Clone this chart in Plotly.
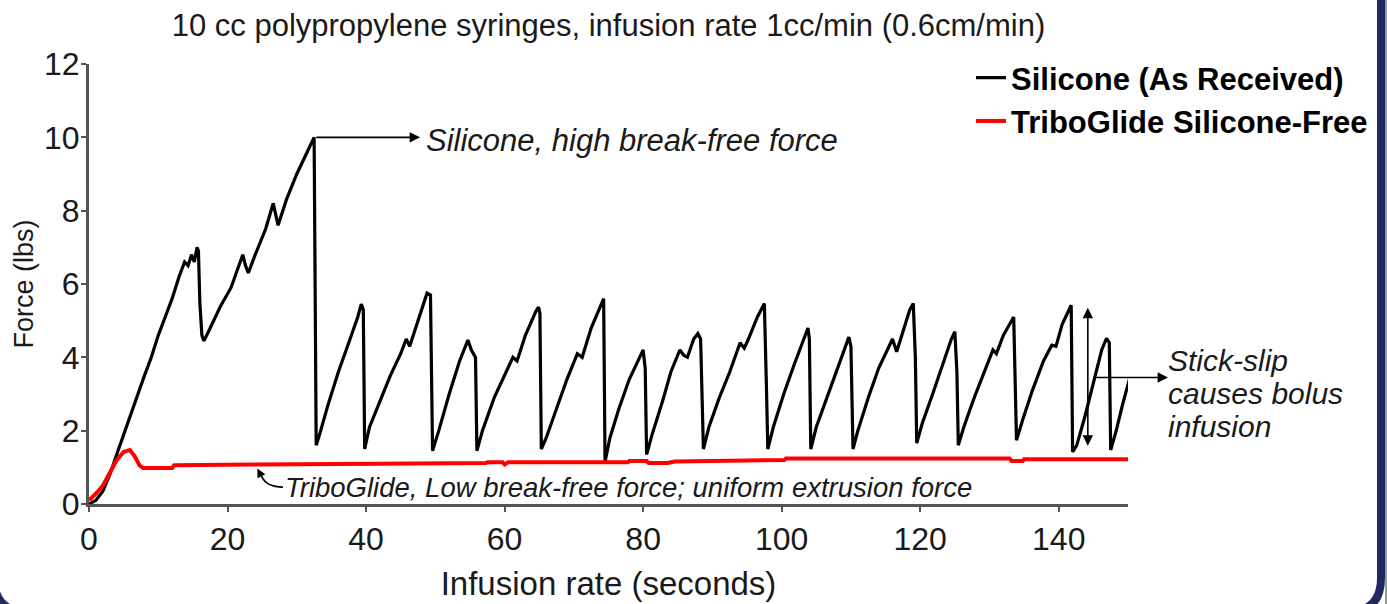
import plotly.graph_objects as go

# ---------------- data ----------------
sil_t = [0, 1, 2, 3, 4, 5, 6, 7, 8, 9, 10, 11, 12, 13, 13.8, 14.3, 14.8, 15.2, 15.6, 15.8, 16.0, 16.3, 16.6,
         17.5, 19, 20.5, 22.2, 22.6, 23.0, 24, 25.5, 26.6, 27.0, 27.3, 28.5, 30, 31.5, 32.5, 32.8,
         33.3, 34.5, 36, 37.5, 38.8, 39.3, 39.6, 39.8,
         40.5, 42, 43.5, 45, 45.8, 46.3, 47.5, 48.8, 49.3, 49.4, 49.6,
         50.5, 52, 53.5, 54.7, 55.2, 55.8, 56.0,
         56.8, 58.5, 60, 61.2, 61.8, 63, 64.5, 64.9, 65.1, 65.3,
         66, 67.5, 69, 70.5, 71.2, 72.5, 74.0, 74.3, 74.5,
         75.2, 76.5, 78, 79.5, 80, 80.3, 80.5,
         81.3, 82.8, 84, 85.3, 85.9, 86.4, 87.3, 87.9, 88.3, 88.5, 88.7,
         89.5, 91, 92.5, 94, 94.6, 95.2, 96.5, 97.5, 97.8, 98.0,
         98.8, 100.3, 101.8, 103, 103.8, 104, 104.2,
         105, 106.5, 108, 109.3, 109.7, 110, 110.1, 110.3,
         111, 112.5, 114, 115.5, 116, 116.6, 117.5, 118.5, 119, 119.3, 119.5,
         120.3, 121.8, 123.3, 124.5, 125, 125.3, 125.5,
         126.3, 127.8, 129.3, 130.5, 131, 132, 133.5, 133.7, 133.9,
         134.8, 136.2, 137.8, 139, 139.6, 140.5, 141.8, 142.0,
         142.6, 143.8, 145, 146.2, 146.9, 147.3, 147.5,
         148.3, 149.2, 150.2]
sil_f = [0, 0.1, 0.35, 0.8, 1.35, 1.9, 2.4, 2.95, 3.5, 4.0, 4.6, 5.1, 5.6, 6.2, 6.6, 6.5, 6.8, 6.6, 7.0, 6.9, 5.5, 4.6, 4.45,
         4.8, 5.4, 5.9, 6.8, 6.5, 6.3, 6.8, 7.5, 8.2, 7.8, 7.6, 8.3, 9.0, 9.6, 10.0, 1.6,
         1.9, 2.7, 3.6, 4.4, 5.1, 5.45, 5.3, 1.5,
         2.1, 2.8, 3.5, 4.1, 4.5, 4.3, 5.0, 5.75, 5.7, 3.8, 1.45,
         2.0, 3.0, 3.9, 4.47, 4.2, 4.0, 1.45,
         2.0, 2.9, 3.5, 4.0, 3.9, 4.6, 5.25, 5.37, 5.2, 1.5,
         1.8, 2.6, 3.4, 4.1, 4.0, 4.8, 5.5, 5.6, 1.15,
         1.8, 2.6, 3.4, 4.0, 4.2, 3.7, 1.35,
         1.9, 2.8, 3.6, 4.2, 4.05, 4.0, 4.5, 4.65, 4.5, 3.0, 1.5,
         2.1, 2.9, 3.6, 4.4, 4.25, 4.5, 5.1, 5.47, 3.2, 1.5,
         2.1, 3.0, 3.8, 4.4, 4.8, 4.5, 1.5,
         2.1, 2.9, 3.7, 4.4, 4.55, 4.3, 2.9, 1.5,
         2.0, 2.9, 3.7, 4.3, 4.5, 4.15, 4.7, 5.3, 5.47, 4.0, 1.66,
         2.2, 3.0, 3.8, 4.5, 4.7, 3.6, 1.6,
         2.1, 2.9, 3.6, 4.2, 4.1, 4.6, 5.1, 3.0, 1.74,
         2.3, 3.1, 3.9, 4.33, 4.3, 4.9, 5.42, 1.42,
         1.6, 2.4, 3.3, 4.2, 4.52, 4.4, 1.47,
         2.0, 2.7, 3.4]

tri_t = [0, 1, 2, 3, 4, 5, 5.9, 6.6, 7.3, 7.8, 12.0, 12.3, 32, 42, 57.3, 57.6, 59.7, 60.0, 60.5,
         77.8, 78.0, 80.5, 80.8, 83.5, 84.6, 96.8, 100.4, 100.6, 132.9, 133.2, 134.8, 135.0, 150.3]
tri_f = [0.1, 0.28, 0.5, 0.85, 1.2, 1.42, 1.47, 1.3, 1.05, 0.98, 0.98, 1.06, 1.07, 1.1, 1.12, 1.14, 1.14, 1.08, 1.14,
         1.14, 1.17, 1.17, 1.12, 1.12, 1.16, 1.2, 1.2, 1.24, 1.24, 1.17, 1.17, 1.22, 1.22]

x_ticks = [0, 20, 40, 60, 80, 100, 120, 140]
y_ticks = [0, 2, 4, 6, 8, 10, 12]

series_names = ["Silicone (As Received)", "TriboGlide Silicone-Free"]
stick_slip_lines = ["Stick-slip", "causes bolus", "infusion"]

# ---------------- layout constants ----------------
W, H = 1387, 604
PL, PR, PT, PB = 89, 1128, 64, 504   # plot area in pixels
FONT = "Liberation Sans, Arial, sans-serif"
NAVY = "#1f2b5e"
TXT = "#1a1a1a"


def px(xp):
    return (xp - PL) / (PR - PL)


def py(yp):
    return (PB - yp) / (PB - PT)


fig = go.Figure()
fig.add_trace(go.Scatter(x=sil_t, y=sil_f, mode="lines", name=series_names[0],
                         line=dict(color="black", width=3.2), legendgroup="a"))
fig.add_trace(go.Scatter(x=tri_t, y=tri_f, mode="lines", name=series_names[1],
                         line=dict(color="#ff0000", width=4), legendgroup="b"))

ital = dict(family=FONT, size=26, color=TXT, style="italic")

annotations = [
    # Silicone break-free arrow + text
    dict(x=47.8, y=10, xref="x", yref="y", ax=32.6, ay=10, axref="x", ayref="y",
         text="", showarrow=True, arrowhead=2, arrowsize=1.3, arrowwidth=1.6, arrowcolor="black"),
    dict(x=48.3, y=9.92, xref="x", yref="y", text="Silicone, high break-free force",
         showarrow=False, xanchor="left", yanchor="middle", font=dict(ital, size=31)),
    # stick-slip double arrow
    dict(x=144.2, y=5.35, xref="x", yref="y", ax=144.2, ay=1.55, axref="x", ayref="y",
         text="", showarrow=True, arrowhead=2, startarrowhead=2, arrowside="end+start",
         arrowsize=1.3, arrowwidth=1.6, arrowcolor="black"),
    dict(x=px(1168), y=3.45, xref="paper", yref="y", ax=-(1168 - 1092), ay=0,
         text="", showarrow=True, arrowhead=2, arrowsize=1.3, arrowwidth=1.6, arrowcolor="black"),
    # TriboGlide
    dict(x=24.3, y=0.97, xref="x", yref="y", ax=25.0, ay=0.72, axref="x", ayref="y",
         text="", showarrow=True, arrowhead=2, arrowsize=1.1, arrowwidth=1.6, arrowcolor="black"),
    dict(x=px(283), y=py(487), xref="paper", yref="paper",
         text="TriboGlide, Low break-free force; uniform extrusion force",
         showarrow=False, xanchor="left", yanchor="middle", font=dict(ital, size=27.5)),
]
for line_text, ypix in zip(stick_slip_lines, [360, 393, 426]):
    annotations.append(dict(x=px(1166), y=py(ypix), xref="paper", yref="paper", text=line_text,
                            showarrow=False, xanchor="left", yanchor="middle",
                            font=dict(ital, size=30)))

L_, R_, B_, T_, RAD = -6, 1381, 612, -60, 34
frame_path = (f"M {px(L_)},{py(T_)} L {px(L_)},{py(B_ - RAD)} "
              f"Q {px(L_)},{py(B_)} {px(L_ + RAD)},{py(B_)} "
              f"L {px(R_ - RAD)},{py(B_)} Q {px(R_)},{py(B_)} {px(R_)},{py(B_ - RAD)} "
              f"L {px(R_)},{py(T_)}")

shapes = [
    dict(type="path", xref="paper", yref="paper", path=frame_path,
         line=dict(color=NAVY, width=8), layer="above"),
    dict(type="rect", xref="paper", yref="paper", x0=px(1385), x1=px(1392), y0=py(-10), y1=py(620),
         fillcolor="#9a9a9a", line=dict(width=0), layer="above"),
    dict(type="path", xref="x", yref="y",
         path="M 28.0,0.46 Q 25.6,0.46 24.9,0.76", line=dict(color="black", width=1.6)),
]

axis_common = dict(showline=True, linecolor="#555555", linewidth=3, ticks="outside",
                   ticklen=5, tickwidth=2, tickcolor="#555555", showgrid=False, zeroline=False,
                   automargin=False, tickfont=dict(family=FONT, size=32, color=TXT))

fig.update_layout(
    width=W, height=H,
    margin=dict(l=PL, r=W - PR, t=PT, b=H - PB, autoexpand=False),
    paper_bgcolor="white", plot_bgcolor="white",
    title=dict(text="10 cc polypropylene syringes, infusion rate 1cc/min (0.6cm/min)",
               x=0.5, xref="paper", y=1 - 25 / H, yref="container", yanchor="middle",
               font=dict(family=FONT, size=31, color=TXT)),
    xaxis=dict(axis_common, range=[0, 150], tickvals=x_ticks,
               title=dict(text="Infusion rate (seconds)", standoff=16,
                          font=dict(family=FONT, size=33, color=TXT))),
    yaxis=dict(axis_common, range=[0, 12], tickvals=y_ticks, ticklabelstandoff=-5,
               title=dict(text="Force (lbs)", standoff=3,
                          font=dict(family=FONT, size=27, color=TXT))),
    legend=dict(x=px(971), y=py(51), xanchor="left", yanchor="top",
                bgcolor="rgba(0,0,0,0)", tracegroupgap=0,
                font=dict(family=FONT, size=31, color="black", weight="bold")),
    showlegend=True,
    annotations=annotations,
    shapes=shapes,
)

fig.write_html("out.html", config={"displayModeBar": False},
               post_script="document.body.style.margin='0px';")
